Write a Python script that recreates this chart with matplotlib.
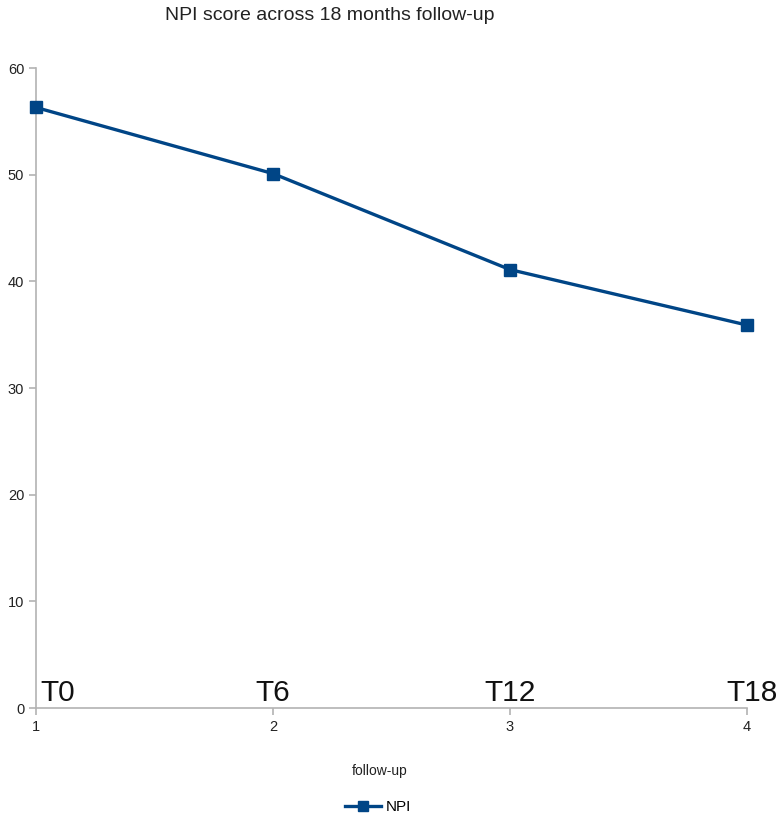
"""NPI score across follow-up visits - line chart."""

import matplotlib
matplotlib.use('Agg')
import matplotlib.pyplot as plt

plt.rcParams['font.family'] = ['Liberation Sans', 'DejaVu Sans']

# Data
visits = [1, 2, 3, 4]
visit_labels = ['T0', 'T6', 'T12', 'T18']
npi_scores = [56.3, 50.1, 41.1, 35.9]
y_ticks = [0, 10, 20, 30, 40, 50, 60]

line_color = '#004586'
axis_color = '#b3b3b3'

fig = plt.figure(figsize=(7.84, 8.18), dpi=100)
ax = fig.add_axes([36 / 784, 110 / 818, (747 - 36) / 784, (708 - 68) / 818])

ax.plot(visits, npi_scores, color=line_color, linewidth=2.4,
        marker='s', markersize=9, label='NPI', clip_on=False, zorder=3)

ax.set_xlim(1, 4)
ax.set_ylim(0, 60)
ax.set_xticks(visits)
ax.set_yticks(y_ticks)

for side in ['top', 'right']:
    ax.spines[side].set_visible(False)
for side in ['left', 'bottom']:
    ax.spines[side].set_color(axis_color)
    ax.spines[side].set_linewidth(1.2)
ax.tick_params(axis='both', colors=axis_color, labelcolor='#222222',
               labelsize=10.5, length=5, width=1.2)

# Big visit names sitting on the x axis
aligns = ['left', 'center', 'center', 'center']
offsets = [0.02, 0, 0, 0.02]
for x, lab, ha, dx in zip(visits, visit_labels, aligns, offsets):
    ax.text(x + dx, 0.1, lab, ha=ha, va='bottom', fontsize=21.5,
            color='#111111', clip_on=False)

ax.set_xlabel('follow-up', fontsize=10, color='#222222')
ax.xaxis.set_label_coords((380 - 36) / (747 - 36), -56 / 640)
fig.text(330 / 784, 1 - 15 / 818, 'NPI score across 18 months follow-up',
         ha='center', va='center', fontsize=14, color='#222222')

fig.legend(loc='center', bbox_to_anchor=(378 / 784, 1 - 807 / 818),
           frameon=False, fontsize=11, handlelength=2.4, handletextpad=0.3,
           markerscale=0.8)

fig.savefig('out.png', dpi=100)
